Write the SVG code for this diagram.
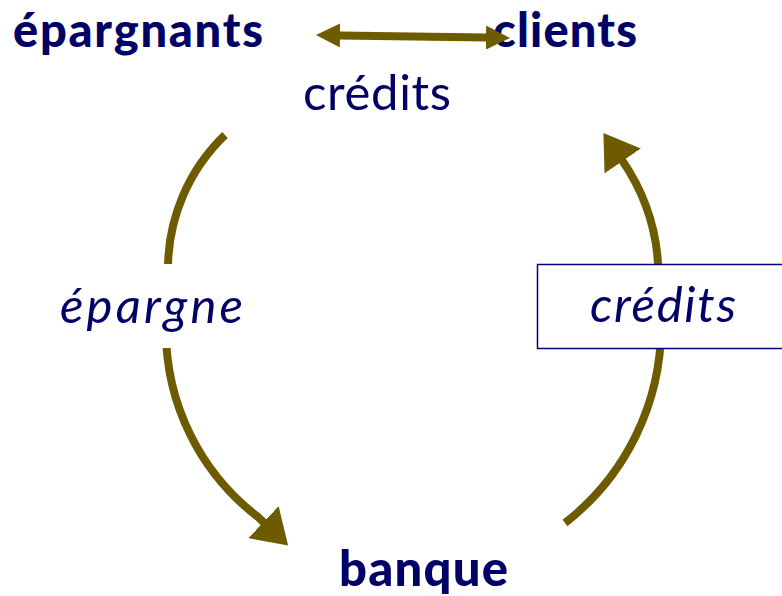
<svg xmlns="http://www.w3.org/2000/svg" width="782" height="596" viewBox="0 0 782 596">
<style>
.t{fill:#000066;font-family:Lato,"Open Sans","Liberation Sans",sans-serif;font-size:49px}
.top{font-size:47px}
.b{font-weight:900}
.i{font-style:italic}
.c{fill:none;stroke:#6E5B00;stroke-width:8}
</style>
<defs>
<marker id="headL" markerUnits="userSpaceOnUse" viewBox="0 0 34 44" markerWidth="34" markerHeight="44" refX="1" refY="22" orient="auto">
<path d="M0,0 L34,22 L0,44 Z" fill="#6E5B00"/>
</marker>
<marker id="headS" markerUnits="userSpaceOnUse" viewBox="0 0 24 24" markerWidth="24" markerHeight="24" refX="1" refY="12" orient="auto-start-reverse">
<path d="M0,0 L24,12 L0,24 Z" fill="#6E5B00"/>
</marker>
</defs>
<rect width="782" height="596" fill="#ffffff"/>
<g id="epargnants"><text class="t b top" x="13" y="47" textLength="250">épargnants</text></g>
<g id="clients"><text class="t b top" x="493" y="47" textLength="144">clients</text></g>
<g id="banque"><text class="t b" x="339" y="586" textLength="169">banque</text></g>
<g id="connectors">
<path class="c" d="M339,35.4 L487,37.6" marker-start="url(#headS)" marker-end="url(#headS)"/>
<path class="c" d="M225,135 A185.5,185.5 0 0 0 168,269 L166,330 A234.5,234.5 0 0 0 258.4,517.3 L264.2,522.8" marker-end="url(#headL)"/>
<path class="c" d="M565,523 A248.9,248.9 0 0 0 661.1,326.5 L658.5,277.4 A206.9,206.9 0 0 0 622.1,160.2" marker-end="url(#headL)"/>
</g>
<g id="label-credits-top"><text class="t" x="303" y="110" textLength="148">crédits</text></g>
<g id="label-epargne">
<rect x="40" y="264" width="240" height="84" fill="#ffffff"/>
<text class="t i" x="60" y="323" textLength="183">épargne</text>
</g>
<g id="label-credits-box">
<rect x="537.5" y="264.5" width="260" height="84" fill="#ffffff" stroke="#000080" stroke-width="1.5"/>
<text class="t i" x="590" y="322" textLength="146">crédits</text>
</g>
</svg>
